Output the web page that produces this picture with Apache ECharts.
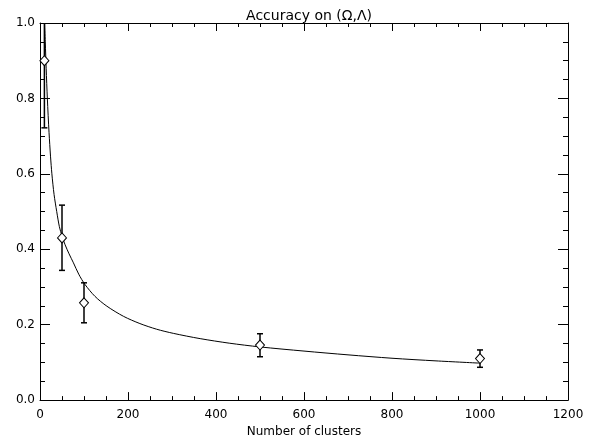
<!DOCTYPE html>
<html>
<head>
<meta charset="utf-8">
<script src="https://cdn.jsdelivr.net/npm/echarts@6/dist/echarts.min.js"></script>
<style>
  html, body { margin: 0; padding: 0; background: #fff; }
  #chart { width: 599px; height: 443px; }
</style>
</head>
<body>
<div id="chart"></div>
<script>
// measured points (diamonds) with error bars
var clusters = [10, 50, 100, 500, 1000];
var accuracy = [0.90, 0.43, 0.258, 0.146, 0.110];
var errLow = [0.722, 0.344, 0.205, 0.115, 0.087];
var errHigh = [1.08, 0.517, 0.311, 0.176, 0.133];

// fitted curve
var curveN = [10.6, 12, 14, 16.7, 20.5, 24, 27, 32, 38, 44, 50, 57, 66, 76, 88, 102, 125, 152, 190, 227, 265, 303, 364, 430, 500, 600, 700, 800, 900, 1000];
var curveY = [1.0, 0.95, 0.88, 0.80, 0.71, 0.645, 0.60, 0.545, 0.50, 0.46, 0.435, 0.412, 0.388, 0.364, 0.334, 0.307, 0.275, 0.249, 0.222, 0.203, 0.188, 0.177, 0.163, 0.151, 0.141, 0.130, 0.120, 0.111, 0.104, 0.098];

var xTicks = [0, 200, 400, 600, 800, 1000, 1200];
var yTicks = [0.0, 0.2, 0.4, 0.6, 0.8, 1.0];

var font = 'DejaVu Sans';
var chart = echarts.init(document.getElementById('chart'));

function xAxisCfg(pos, labels) {
    return {
        type: 'value', position: pos,
        min: xTicks[0], max: xTicks[xTicks.length - 1], interval: 200,
        axisLine: { show: true, onZero: false, lineStyle: { color: '#000', width: 1 } },
        axisTick: { show: true, inside: true, length: 8, lineStyle: { color: '#000' } },
        minorTick: { show: true, splitNumber: 4, length: 4, lineStyle: { color: '#000' } },
        splitLine: { show: false },
        axisLabel: { show: labels, color: '#000', fontFamily: font, fontSize: 12, margin: 9,
            formatter: function (v) { return String(v); } },
        name: labels ? 'Number of clusters' : '',
        nameLocation: 'middle', nameGap: 25,
        nameTextStyle: { color: '#000', fontFamily: font, fontSize: 12 }
    };
}
function yAxisCfg(pos, labels) {
    return {
        type: 'value', position: pos,
        min: yTicks[0], max: yTicks[yTicks.length - 1], interval: 0.2,
        axisLine: { show: true, onZero: false, lineStyle: { color: '#000', width: 1 } },
        axisTick: { show: true, inside: true, length: 10, lineStyle: { color: '#000' } },
        minorTick: { show: true, splitNumber: 4, length: 5, lineStyle: { color: '#000' } },
        splitLine: { show: false },
        axisLabel: { show: labels, color: '#000', fontFamily: font, fontSize: 12, margin: 5,
            formatter: function (v) { return v.toFixed(1); } }
    };
}

var curveData = curveN.map(function (n, i) { return [n, curveY[i]]; });
var pointData = clusters.map(function (n, i) { return [n, accuracy[i]]; });
var errData = clusters.map(function (n, i) { return [n, errLow[i], errHigh[i]]; });

chart.setOption({
    animation: false,
    backgroundColor: '#fff',
    title: {
        text: 'Accuracy on (\u03A9,\u039B)',
        left: 304, textAlign: 'center', top: 4,
        textStyle: { color: '#000', fontFamily: font, fontSize: 14, fontWeight: 'normal' }
    },
    grid: { left: 40, right: 31, top: 23, bottom: 42 },
    xAxis: [xAxisCfg('bottom', true), xAxisCfg('top', false)],
    yAxis: [yAxisCfg('left', true), yAxisCfg('right', false)],
    series: [
        {
            type: 'line', data: curveData, showSymbol: false,
            smooth: 0.3, clip: true,
            lineStyle: { color: '#000', width: 1 }
        },
        {
            type: 'custom', data: errData, clip: true, z: 3,
            renderItem: function (params, api) {
                var x = api.value(0);
                var lo = api.coord([x, api.value(1)]);
                var hi = api.coord([x, api.value(2)]);
                var w = 3;
                var st = { stroke: '#000', lineWidth: 1.5 };
                return {
                    type: 'group',
                    children: [
                        { type: 'line', shape: { x1: lo[0], y1: lo[1], x2: hi[0], y2: hi[1] }, style: st },
                        { type: 'line', shape: { x1: lo[0] - w, y1: lo[1], x2: lo[0] + w, y2: lo[1] }, style: st },
                        { type: 'line', shape: { x1: hi[0] - w, y1: hi[1], x2: hi[0] + w, y2: hi[1] }, style: st }
                    ]
                };
            }
        },
        {
            type: 'scatter', data: pointData, z: 4,
            symbol: 'diamond', symbolSize: [9, 10],
            itemStyle: { color: '#fff', borderColor: '#000', borderWidth: 1, opacity: 1 }
        }
    ]
});
</script>
</body>
</html>
